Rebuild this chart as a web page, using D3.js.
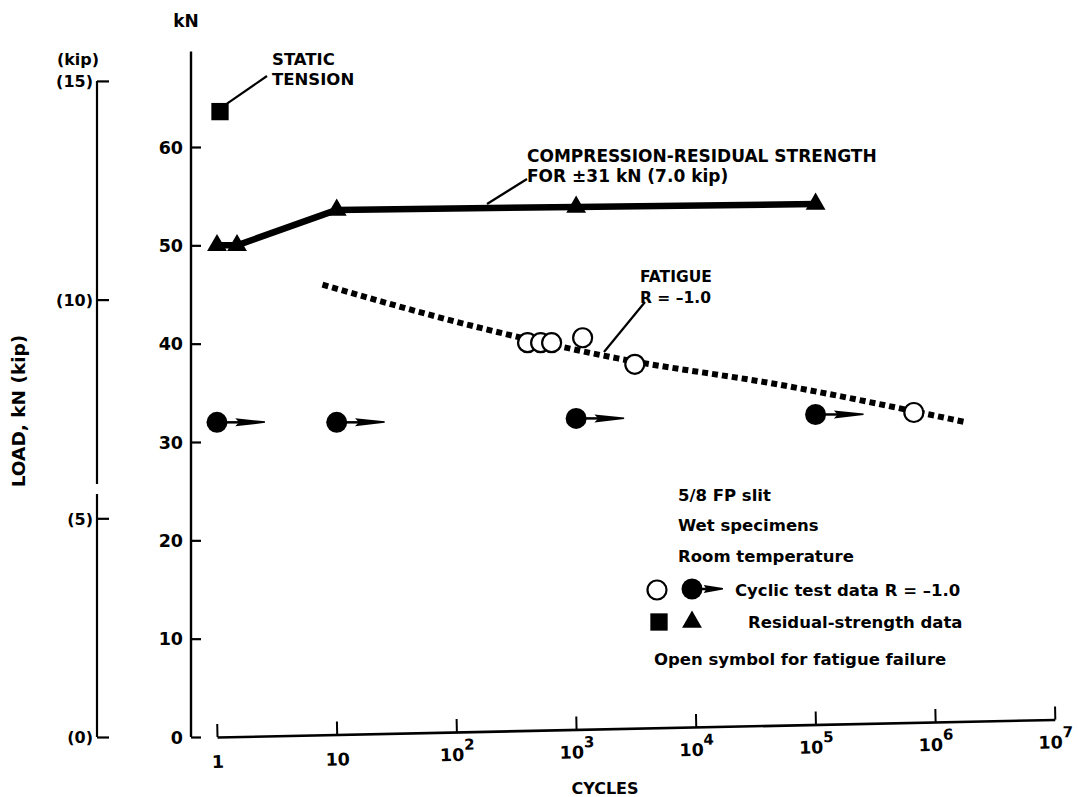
<!DOCTYPE html>
<html>
<head>
<meta charset="utf-8">
<script src="https://cdn.jsdelivr.net/npm/d3@7"></script>
<style>
  html, body { margin: 0; padding: 0; background: #fff; }
  svg { display: block; }
  text { font-family: "DejaVu Sans", "Liberation Sans", Arial, sans-serif; font-weight: bold; fill: #000; }
</style>
</head>
<body>
<svg id="chart" width="1078" height="797"></svg>
<script>
// ---------------- DATA ----------------
const kNTicks = [0, 10, 20, 30, 40, 50, 60];
const kipTicks = [0, 5, 10, 15];
const cycleTicks = [1, 10, 100, 1e3, 1e4, 1e5, 1e6, 1e7];
const cycleTickLabels = [["1", ""], ["10", ""], ["10", "2"], ["10", "3"], ["10", "4"], ["10", "5"], ["10", "6"], ["10", "7"]];

// static tension (filled square)
const staticCycles = [1];
const staticLoad = [63.6];

// compression-residual strength (filled triangles, solid line)
const residualCycles = [1, 1.47, 10, 1000, 1e5];
const residualLoad = [50.0, 50.0, 53.6, 53.9, 54.2];

// fatigue curve R = -1.0 (dotted line)
const fatigueCycles = [7.6, 159, 2225, 51400, 1.82e6];
const fatigueLoad = [46.0, 41.6, 38.5, 35.8, 32.0];

// open circles: fatigue failures
const failureCycles = [393, 505, 624, 1133, 3090, 662000];
const failureLoad = [40.1, 40.1, 40.1, 40.6, 37.9, 33.0];

// filled circles with arrows: runouts
const runoutCycles = [1, 10, 1000, 1e5];
const runoutLoad = [32.0, 32.0, 32.4, 32.8];

const KIP_TO_KN = 4.448;

// ---------------- SCALES ----------------
const svg = d3.select("#chart");
const x = d3.scaleLog().domain([1, 1e7]).range([217, 1055]);
const y = d3.scaleLinear().domain([0, 60]).range([737, 147]);
const yKip = d3.scaleLinear().domain([0, 15]).range([y(0), y(15 * KIP_TO_KN)]);

const FONT = "'DejaVu Sans', 'Liberation Sans', Arial, sans-serif";

// ---------------- kN AXIS ----------------
const kNx = 191;
const gkN = svg.append("g").attr("transform", `translate(${kNx},0)`);
gkN.call(d3.axisLeft(y).tickValues(kNTicks).tickSizeInner(-10).tickSizeOuter(0).tickPadding(8).tickFormat(d3.format("d")))
  .call(g => g.select(".domain").remove())
  .call(g => g.selectAll(".tick line").attr("stroke", "#000").attr("stroke-width", 2.2))
  .call(g => g.selectAll(".tick text").style("font-size", "17.5px").attr("dy", "0.36em").style("font-family", FONT).style("font-weight", "bold"));
gkN.append("line").attr("x1", 0).attr("x2", 0).attr("y1", y(0)).attr("y2", y(69.7))
  .attr("stroke", "#000").attr("stroke-width", 2.4);
svg.append("text").attr("x", 186).attr("y", 27).attr("text-anchor", "middle").style("font-size", "17px").text("kN");

// ---------------- kip AXIS ----------------
const kipX = 97;
const gKip = svg.append("g").attr("transform", `translate(${kipX},0)`);
gKip.call(d3.axisLeft(yKip).tickValues(kipTicks).tickSizeInner(-12).tickSizeOuter(0).tickPadding(4).tickFormat(d => `(${d})`))
  .call(g => g.select(".domain").remove())
  .call(g => g.selectAll(".tick line").attr("stroke", "#000").attr("stroke-width", 2.2))
  .call(g => g.selectAll(".tick text").style("font-size", "16px").attr("dy", "0.36em").style("font-family", FONT).style("font-weight", "bold"));
gKip.append("line").attr("x1", 0).attr("x2", 0).attr("y1", yKip(0)).attr("y2", 494)
  .attr("stroke", "#000").attr("stroke-width", 2.2);
gKip.append("line").attr("x1", 0).attr("x2", 0).attr("y1", 484).attr("y2", yKip(15))
  .attr("stroke", "#000").attr("stroke-width", 2.2);
svg.append("text").attr("x", 78).attr("y", 65).attr("text-anchor", "middle").style("font-size", "16px").text("(kip)");

svg.append("text")
  .attr("transform", "translate(25,411) rotate(-90)")
  .attr("text-anchor", "middle").style("font-size", "18.5px").text("LOAD, kN (kip)");

// ---------------- CYCLES AXIS (slightly skewed like the scan) ----------------
const gx = svg.append("g").attr("transform", `rotate(-1.2, ${x(1)}, ${y(0)}) translate(0,${y(0)})`);
gx.call(d3.axisBottom(x).tickValues(cycleTicks).tickSizeInner(-13).tickSizeOuter(0).tickFormat(""))
  .call(g => g.select(".domain").attr("stroke", "#000").attr("stroke-width", 2.6))
  .call(g => g.selectAll(".tick line").attr("stroke", "#000").attr("stroke-width", 2));
gx.selectAll(".tick").each(function(d, i) {
  const lab = cycleTickLabels[i];
  const t = d3.select(this).append("text").attr("y", lab[1] ? 29 : 31).attr("text-anchor", "middle")
    .style("font-size", "17.5px").attr("fill", "#000");
  t.append("tspan").text(lab[0]);
  if (lab[1]) t.append("tspan").attr("dy", "-11").style("font-size", "15px").text(lab[1]);
});
svg.append("text").attr("x", 605).attr("y", 794).attr("text-anchor", "middle").style("font-size", "16px").text("CYCLES");

// ---------------- SERIES ----------------
const fatigue = fatigueCycles.map((c, i) => [c, fatigueLoad[i]]);
svg.append("path").datum(fatigue)
  .attr("d", d3.line().x(d => x(d[0])).y(d => y(d[1])).curve(d3.curveMonotoneX))
  .attr("fill", "none").attr("stroke", "#000").attr("stroke-width", 6).attr("stroke-dasharray", "6,4");

const residual = residualCycles.map((c, i) => [c, residualLoad[i]]);
svg.append("path").datum(residual)
  .attr("d", d3.line().x(d => x(d[0])).y(d => y(d[1])))
  .attr("fill", "none").attr("stroke", "#000").attr("stroke-width", 6.5).attr("stroke-linejoin", "round");

const triSym = d3.symbol().type(d3.symbolTriangle).size(170);
svg.selectAll("path.tri").data(residual).join("path").attr("class", "tri")
  .attr("transform", d => `translate(${x(d[0])},${y(d[1])})`).attr("d", triSym).attr("fill", "#000");

const sqSym = d3.symbol().type(d3.symbolSquare).size(300);
svg.selectAll("path.sq").data(staticCycles.map((c, i) => [c, staticLoad[i]])).join("path").attr("class", "sq")
  .attr("transform", d => `translate(${x(d[0]) + 3},${y(d[1])})`).attr("d", sqSym).attr("fill", "#000");

// runouts with arrows
function runout(g, len) {
  g.append("line").attr("x1", 0).attr("x2", len * 0.55).attr("y1", 0).attr("y2", 0).attr("stroke", "#000").attr("stroke-width", 2.5);
  g.append("path").attr("d", `M${len * 0.38},-4 L${len},-1 L${len},0.5 L${len * 0.38},4 L${len * 0.46},0 Z`).attr("fill", "#000");
  g.append("circle").attr("r", 10.5).attr("fill", "#000");
}
svg.selectAll("g.runout").data(runoutCycles.map((c, i) => [c, runoutLoad[i]])).join("g").attr("class", "runout")
  .attr("transform", d => `translate(${x(d[0])},${y(d[1])})`).each(function() { runout(d3.select(this), 48); });

// fatigue failures (open circles)
svg.selectAll("circle.fail").data(failureCycles.map((c, i) => [c, failureLoad[i]])).join("circle").attr("class", "fail")
  .attr("cx", d => x(d[0])).attr("cy", d => y(d[1])).attr("r", 9.5)
  .attr("fill", "#fff").attr("stroke", "#000").attr("stroke-width", 2.2);

// ---------------- ANNOTATIONS ----------------
const lead = (x1, y1, x2, y2) => svg.append("line").attr("x1", x1).attr("y1", y1).attr("x2", x2).attr("y2", y2)
  .attr("stroke", "#000").attr("stroke-width", 2.2);

lead(x(staticCycles[0]) + 10, y(staticLoad[0]) - 8, 267, 76);
svg.append("text").attr("x", 272).attr("y", 65).style("font-size", "16.5px").text("STATIC");
svg.append("text").attr("x", 272).attr("y", 85).style("font-size", "16.5px").text("TENSION");

lead(487, 204, 527, 179);
svg.append("text").attr("x", 527).attr("y", 162).style("font-size", "17px").text("COMPRESSION-RESIDUAL STRENGTH");
svg.append("text").attr("x", 527).attr("y", 182).style("font-size", "17px").text("FOR \u00B131 kN (7.0 kip)");

lead(604, 352, 645, 302);
svg.append("text").attr("x", 640).attr("y", 282).style("font-size", "15.5px").text("FATIGUE");
svg.append("text").attr("x", 640).attr("y", 303).style("font-size", "15.5px").text("R = \u20131.0");

// ---------------- LEGEND ----------------
const legText = (xx, yy, s) => svg.append("text").attr("x", xx).attr("y", yy).style("font-size", "16.5px").text(s);
legText(678, 501, "5/8 FP slit");
legText(678, 531, "Wet specimens");
legText(678, 562, "Room temperature");
svg.append("circle").attr("cx", 657).attr("cy", 590).attr("r", 9.5).attr("fill", "#fff").attr("stroke", "#000").attr("stroke-width", 2.2);
const lr = svg.append("g").attr("transform", "translate(692,589)");
runout(lr, 31);
legText(735, 596, "Cyclic test data R = \u20131.0");
svg.append("path").attr("transform", "translate(659,622)").attr("d", sqSym).attr("fill", "#000");
svg.append("path").attr("transform", "translate(692,622)").attr("d", triSym).attr("fill", "#000");
legText(748, 628, "Residual-strength data");
legText(654, 665, "Open symbol for fatigue failure");
</script>
</body>
</html>
